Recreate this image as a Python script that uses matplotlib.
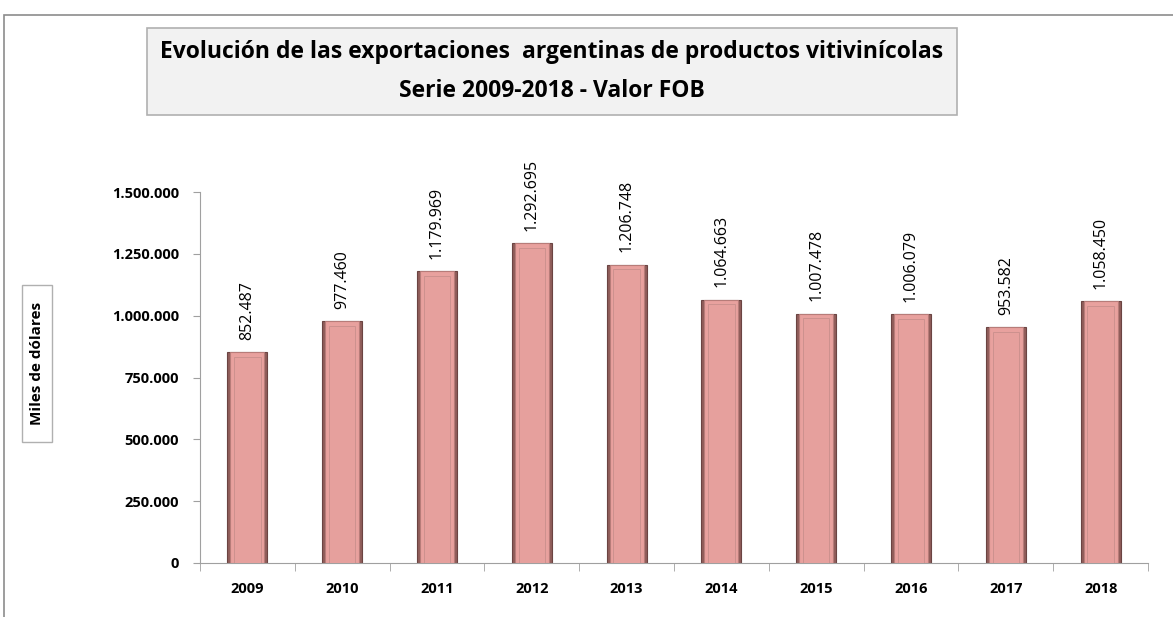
import numpy as np
import matplotlib.pyplot as plt
from matplotlib.patches import Rectangle

plt.rcParams['font.family'] = ['Open Sans', 'DejaVu Sans']

years = ['2009', '2010', '2011', '2012', '2013', '2014', '2015', '2016', '2017', '2018']
valores = [852487, 977460, 1179969, 1292695, 1206748, 1064663, 1007478, 1006079, 953582, 1058450]
etiquetas = ['852.487', '977.460', '1.179.969', '1.292.695', '1.206.748',
             '1.064.663', '1.007.478', '1.006.079', '953.582', '1.058.450']
yticks = [0, 250000, 500000, 750000, 1000000, 1250000, 1500000]
ytick_labels = ['0', '250.000', '500.000', '750.000', '1.000.000', '1.250.000', '1.500.000']

W, H = 1173, 617
fig = plt.figure(figsize=(W / 100, H / 100), dpi=100)

# outer frame of the chart area
fig.patches.append(Rectangle((4 / W, -0.01), 1.2, 1 - 15 / H + 0.01, transform=fig.transFigure,
                             fill=False, edgecolor='#8c8c8c', linewidth=1.2))

ax = fig.add_axes([200 / W, 1 - 563 / H, 948 / W, (563 - 192) / H])
x = np.arange(len(years))

# bars: dark outer edge + lighter inner face for a bevel look
ax.bar(x, valores, width=0.42, color='#8f5d5a', edgecolor='#6b4442', linewidth=0.8, zorder=2)
ax.bar(x, valores, width=0.36, color='#e8a19e', edgecolor='#b77c79', linewidth=0.8, zorder=3)
ax.bar(x, np.array(valores) - 18000, width=0.28, color='#e6a09d', edgecolor='#c98f8c',
       linewidth=0.6, zorder=4)

for xi, v, t in zip(x, valores, etiquetas):
    ax.annotate(t, (xi, v), xytext=(0, 9), textcoords='offset points', rotation=90,
                ha='center', va='bottom', fontsize=11.5, annotation_clip=False)

ax.set_xlim(-0.5, len(years) - 0.5)
ax.set_ylim(0, 1500000)
ax.set_yticks(yticks)
ax.set_yticklabels(ytick_labels, fontsize=10.5, fontweight='bold')
ax.set_xticks(x)
ax.set_xticklabels(years, fontsize=10.5, fontweight='bold')
ax.tick_params(axis='x', length=0, pad=14)
ax.tick_params(axis='y', length=5, color='#a0a0a0', pad=10)
ax.set_xticks(np.arange(-0.5, len(years), 1), minor=True)
ax.tick_params(axis='x', which='minor', length=6, color='#a0a0a0')

for s in ['top', 'right']:
    ax.spines[s].set_visible(False)
ax.spines['left'].set_color('#a0a0a0')
ax.spines['bottom'].set_color('#a0a0a0')

# title box
fig.patches.append(Rectangle((147 / W, 1 - 115 / H), 810 / W, 87 / H, transform=fig.transFigure,
                             facecolor='#f2f2f2', edgecolor='#b0b0b0', linewidth=1.2))
fig.text(552 / W, 1 - 52 / H, 'Evolución de las exportaciones  argentinas de productos vitivinícolas',
         ha='center', va='center', fontsize=16.5, fontweight='bold')
fig.text(552 / W, 1 - 91 / H, 'Serie 2009-2018 - Valor FOB',
         ha='center', va='center', fontsize=16.5, fontweight='bold')

# y axis label box
fig.patches.append(Rectangle((22 / W, 1 - 442 / H), 30 / W, 157 / H, transform=fig.transFigure,
                             facecolor='white', edgecolor='#b0b0b0', linewidth=1))
fig.text(37 / W, 1 - 363 / H, 'Miles de dólares', rotation=90, ha='center', va='center',
         fontsize=11, fontweight='bold')

fig.savefig('out.png', dpi=100)
